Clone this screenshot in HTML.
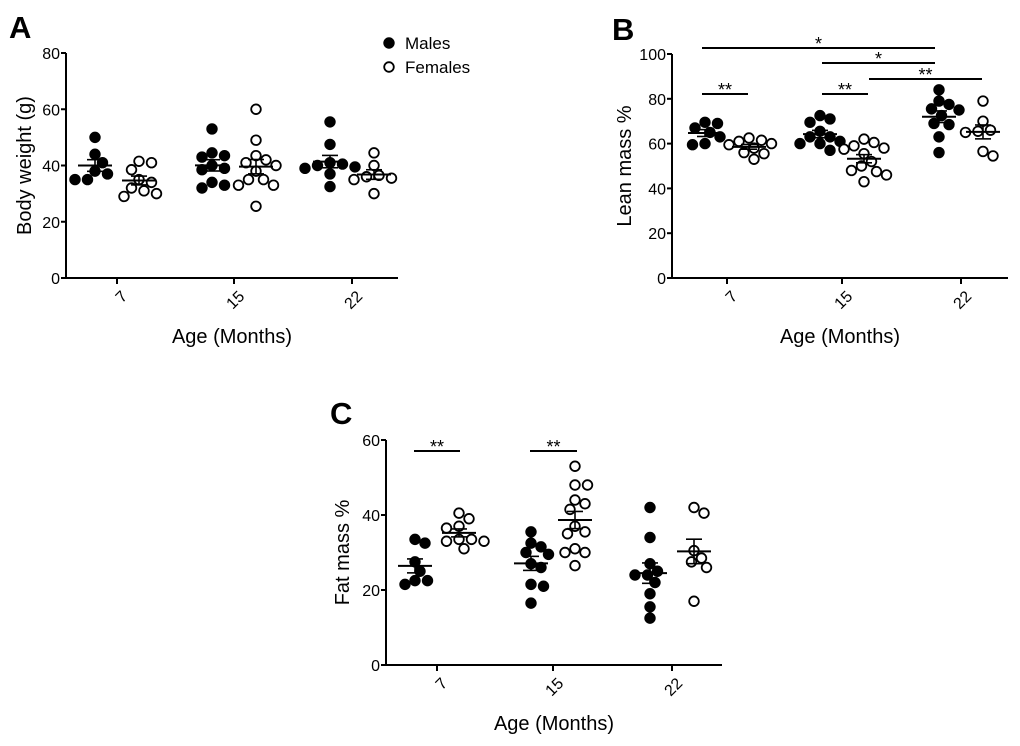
<!DOCTYPE html>
<html><head><meta charset="utf-8"><style>
html,body{margin:0;padding:0;background:#fff;}
svg text{font-family:"Liberation Sans",Arial,sans-serif;fill:#000;}
</style></head><body>
<svg id="chart" width="1020" height="741" viewBox="0 0 1020 741" xmlns="http://www.w3.org/2000/svg"></svg>
<script>
// Panel A: body weight (g)
const ageLabels = ["7","15","22"];
const aMales = [[50,44,41,38,37,35,35],[53,44.5,43.5,43,40,39,38.5,34,33,32],[55.5,47.5,41,40.5,40,39.5,39,37,32.5]];
const aFemales = [[41.5,41,38.5,35,34,32,31,30,29],[60,49,43.5,42,41,40,38,35,35,33,33,25.5],[44.5,40,36.5,36,35.5,35,30]];
// Panel B: lean mass %
const bMales = [[69.5,69,67,65,63,60,59.5],[72.5,71,69.5,65.5,63,63,61,60,60,57],[84,79,77.5,75.5,75,72.5,69,68.5,63,56]];
const bFemales = [[62.5,61.5,61,60,59.5,58,56,55.5,53],[62,60.5,59,58,57.5,55.5,52,50,48,47.5,46,43],[79,70,66,65.5,65,56.5,54.5]];
// Panel C: fat mass %
const cMales = [[33.5,32.5,27.5,25,22.5,22.5,21.5],[35.5,32.5,31.5,30,29.5,27,26,21.5,21,16.5],[42,34,27,25,24,24,22,19,15.5,12.5]];
const cFemales = [[40.5,39,37,36.5,33.5,33.5,33,33,31],[53,48,48,44,43,41.5,37,35.5,35,31,30,30,26.5],[42,40.5,30.5,28.5,27.5,26,17]];
const aTicks = [0,20,40,60,80];
const bTicks = [0,20,40,60,80,100];
const cTicks = [0,20,40,60];

const NS="http://www.w3.org/2000/svg";
const svg=document.getElementById('chart');
function mk(tag,attrs,parent){const e=document.createElementNS(NS,tag);for(const k in attrs)e.setAttribute(k,attrs[k]);(parent||svg).appendChild(e);return e;}

function beeswarm(vals,yf,r){
  const placed=[];
  const order=vals.map((v,i)=>i).sort((a,b)=>vals[b]-vals[a]);
  const res=new Array(vals.length);
  order.forEach(i=>{const y=yf(vals[i]);let dx=0;
    const cands=[0];for(let k=1;k<20;k++){cands.push(k*2.5);cands.push(-k*2.5);}
    for(const c of cands){let ok=true;for(const p of placed){if(Math.hypot(p[0]-c,p[1]-y)<2*r+0.5){ok=false;break;}}if(ok){dx=c;break;}}
    placed.push([dx,y]);res[i]=dx;});
  return res;
}

function panel(cfg){
  const g=mk('g',{});
  
  
  const y=v=>cfg.y0+(cfg.y1-cfg.y0)*(v-cfg.tmin)/(cfg.tmax-cfg.tmin);
  const ya=mk('line',{x1:cfg.ax,y1:y(cfg.tmax),x2:cfg.ax,y2:cfg.y0+1,stroke:'#000','stroke-width':2},g);
  
  const xa=mk('line',{x1:cfg.ax-1,y1:cfg.y0,x2:cfg.axEnd,y2:cfg.y0,stroke:'#000','stroke-width':2},g);
  
  cfg.ticks.forEach(t=>{
    mk('line',{x1:cfg.ax-5,y1:y(t),x2:cfg.ax,y2:y(t),stroke:'#000','stroke-width':2},g);
    const tl=mk('text',{x:cfg.ax-6,y:y(t)+6,'text-anchor':'end','font-size':16},g);
    tl.textContent=t;
  });
  cfg.xs.forEach((xc,i)=>{
    mk('line',{x1:xc,y1:cfg.y0,x2:xc,y2:cfg.y0+6,stroke:'#000','stroke-width':2},g);
    const tl=mk('text',{x:xc+4,y:cfg.y0+12,'text-anchor':'end','font-size':16,transform:`rotate(-45 ${xc+4} ${cfg.y0+12})`,'dominant-baseline':'hanging'},g);
    tl.textContent=ageLabels[i];
  });
  const xt=mk('text',{x:(cfg.ax+cfg.axEnd)/2,y:cfg.y0+65,'text-anchor':'middle','font-size':20},g);
  xt.textContent='Age (Months)';
  const yt=mk('text',{x:cfg.ytx,y:(cfg.y0+cfg.y1)/2,'text-anchor':'middle','font-size':20,transform:`rotate(-90 ${cfg.ytx} ${(cfg.y0+cfg.y1)/2})`},g);
  yt.textContent=cfg.ytitle;
  const L=mk('text',{x:cfg.lx,y:cfg.ly,'font-size':31,'font-weight':'bold'},g);
  L.textContent=cfg.letter;
  [[cfg.m,'#000','male'],[cfg.f,'#fff','female']].forEach(([data,fill,sex],si)=>{
    data.forEach((vals,gi)=>{
      const cx=cfg.xs[gi]+(si===0?-22:22);
      const dx=beeswarm(vals,y,5);
      vals.forEach((v,k)=>{
        const c=mk('circle',{cx:cx+dx[k],cy:y(v),r:4.8,fill:fill,stroke:'#000','stroke-width':1.8},g);
        
        
      });
      const n=vals.length,mean=vals.reduce((a,b)=>a+b,0)/n;
      const sd=Math.sqrt(vals.reduce((a,b)=>a+(b-mean)**2,0)/(n-1)),sem=sd/Math.sqrt(n);
      const ml=mk('line',{x1:cx-17,x2:cx+17,y1:y(mean),y2:y(mean),stroke:'#000','stroke-width':2},g);
      
      mk('line',{x1:cx,x2:cx,y1:y(mean+sem),y2:y(mean-sem),stroke:'#000','stroke-width':1.6},g);
      mk('line',{x1:cx-8,x2:cx+8,y1:y(mean+sem),y2:y(mean+sem),stroke:'#000','stroke-width':1.6},g);
      mk('line',{x1:cx-8,x2:cx+8,y1:y(mean-sem),y2:y(mean-sem),stroke:'#000','stroke-width':1.6},g);
    });
  });
  (cfg.sig||[]).forEach(s=>{
    const l=mk('line',{x1:s[0],x2:s[1],y1:s[2],y2:s[2],stroke:'#000','stroke-width':2},g);
    
    const t=mk('text',{x:(s[0]+s[1])/2,y:s[2]+2,'text-anchor':'middle','font-size':18},g);
    t.textContent=s[3];
  });
}

panel({name:'panel-a',letter:'A',lx:9,ly:38,ax:66,axEnd:398,y0:278,y1:53,tmin:0,tmax:80,ticks:aTicks,xs:[117,234,352],m:aMales,f:aFemales,ytitle:'Body weight (g)',ytx:31});
panel({name:'panel-b',letter:'B',lx:612,ly:40,ax:672,axEnd:1008,y0:278,y1:54,tmin:0,tmax:100,ticks:bTicks,xs:[727,842,961],m:bMales,f:bFemales,ytitle:'Lean mass %',ytx:631,
  sig:[[702,935,48,'*'],[822,935,63,'*'],[869,982,79,'**'],[702,748,94,'**'],[822,868,94,'**']]});
panel({name:'panel-c',letter:'C',lx:330,ly:424,ax:386,axEnd:722,y0:665,y1:440,tmin:0,tmax:60,ticks:cTicks,xs:[437,553,672],m:cMales,f:cFemales,ytitle:'Fat mass %',ytx:349,
  sig:[[414,460,451,'**'],[530,577,451,'**']]});

const lg=mk('g',{});


mk('circle',{cx:389,cy:43,r:4.8,fill:'#000',stroke:'#000','stroke-width':1.8},lg);
mk('circle',{cx:389,cy:67,r:4.8,fill:'#fff',stroke:'#000','stroke-width':1.8},lg);
const t1=mk('text',{x:405,y:49,'font-size':17},lg);t1.textContent='Males';


const t2=mk('text',{x:405,y:73,'font-size':17},lg);t2.textContent='Females';


</script>
</body></html>
